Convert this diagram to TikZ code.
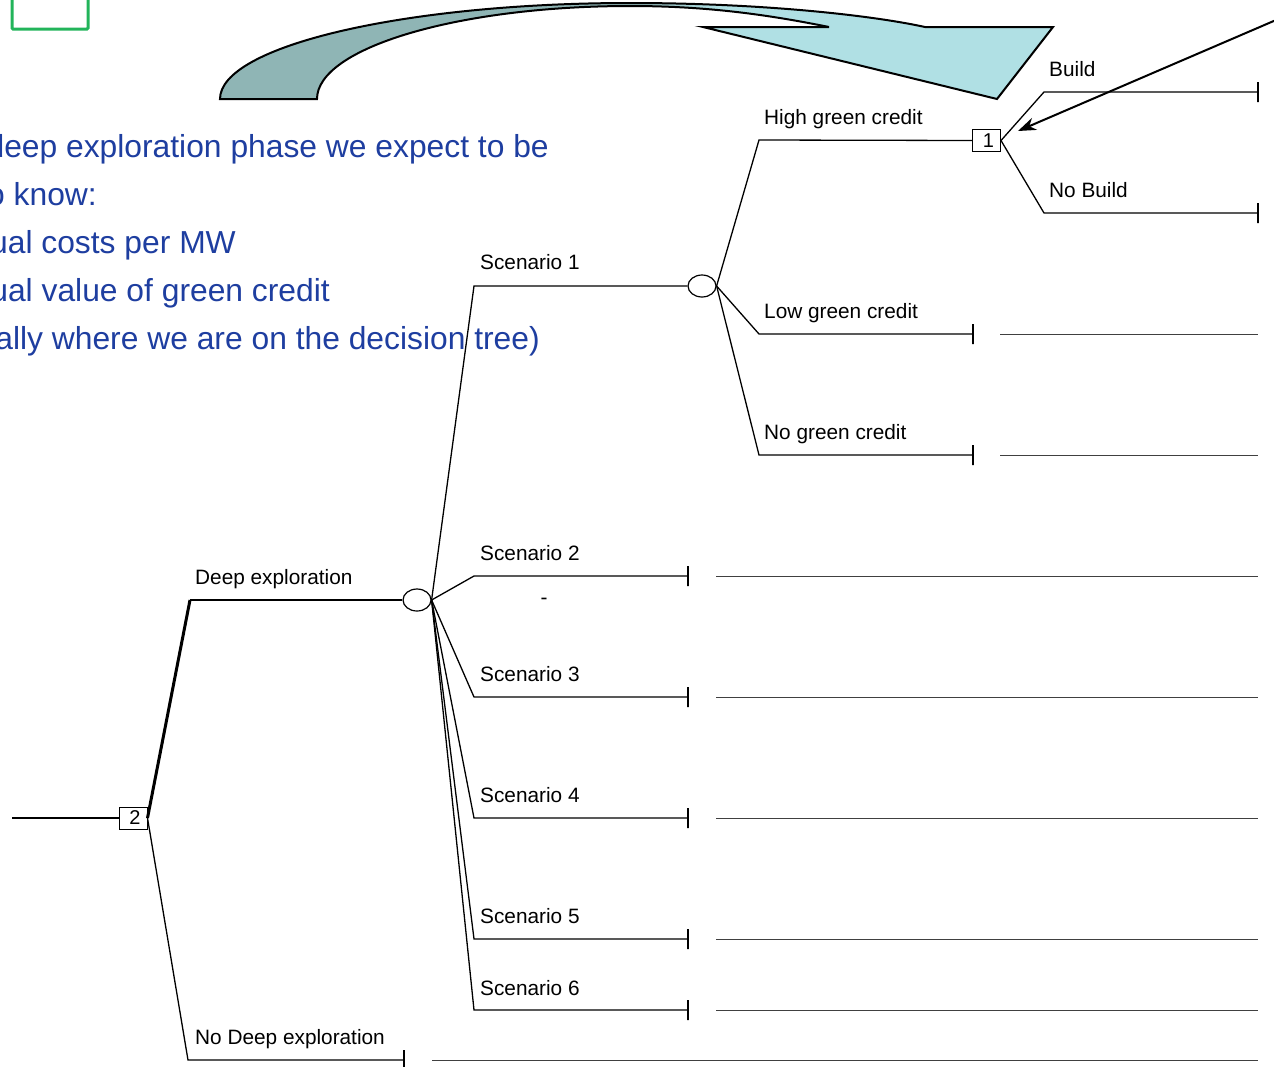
\documentclass[tikz,border=0pt]{standalone}
\usepackage{fontspec}
\setmainfont{Liberation Sans}
\usetikzlibrary{shapes.geometric,arrows.meta}
\definecolor{noteBlue}{RGB}{30,62,160}
\definecolor{frameGreen}{RGB}{34,180,90}
\definecolor{tealDark}{RGB}{143,181,181}
\definecolor{tealLight}{RGB}{176,224,228}
\pgfdeclarehorizontalshading{bendfill}{100bp}{color(0bp)=(tealDark); color(50bp)=(tealDark); color(55bp)=(tealLight); color(100bp)=(tealLight)}

\begin{document}
\begin{tikzpicture}[x=1pt,y=-1pt,
  branch/.style={line width=1.3pt},
  mainbranch/.style={line width=3pt},
  payoff/.style={line width=0.8pt, black!75},
  lbl/.style={font=\fontsize{20.8}{24}\selectfont, anchor=base west, inner sep=0pt},
  note/.style={font=\fontsize{31.8}{36}\selectfont, text=noteBlue, anchor=base east, inner sep=0pt},
  chance/.style={ellipse, draw, line width=1.2pt, minimum width=28pt, minimum height=22pt, inner sep=0pt},
  decision/.style={rectangle, draw, line width=1pt, minimum width=28pt, minimum height=22pt, inner sep=0pt, font=\fontsize{20}{20}\selectfont},
  endtick/.style={rectangle, draw, line width=1.3pt, minimum width=0pt, minimum height=20pt, inner sep=0pt, outer sep=0pt}
]
\useasboundingbox (0,0) rectangle (1274,1066);
\clip (0,0) rectangle (1274,1066);

% green frame in the corner
\draw[frameGreen, line width=3pt, rounded corners=1pt] (12,-10) rectangle (88,29);

% curved block arrow
\path[draw=black, line width=2pt, shading=bendfill]
  (220,99) .. controls (220,46) and (405,3) .. (630,3)
  .. controls (760,3) and (870,15) .. (925,27)
  -- (1053,27) -- (997,99) -- (703,27) -- (829,27)
  .. controls (760,13) and (700,6) .. (630,6)
  .. controls (458,6) and (317,48) .. (317,99) -- cycle;

% notes
\node[note] (n1) at (549,157) {deep exploration phase we expect to be};
\node[note] (n2) at (97,205) {o know:};
\node[note] (n3) at (236,253) {ual costs per MW};
\node[note] (n4) at (330,301) {ual value of green credit};
\node[note] (n5) at (540,349) {ally where we are on the decision tree)};

% nodes of the tree
\coordinate (root) at (12,818);
\coordinate (xEnd) at (1258,0);
\node[decision] (d2) at (133,818) {\hspace*{4pt}2};
\node[chance] (c1) at (417,600) {};
\node[chance] (c2) at (702,286) {};
\node[decision] (d1) at (986.5,140.5) {\hspace*{4pt}1};

\coordinate (kDeep) at (190,600);
\coordinate (kNoDeep) at (188,1060);
\node[endtick] (tNoDeep) at (404,1060) {};

\coordinate (kS1) at (474,286);
\coordinate (kS2) at (474,576);
\coordinate (kS3) at (474,697);
\coordinate (kS4) at (474,818);
\coordinate (kS5) at (474,939);
\coordinate (kS6) at (474,1010);
\node[endtick] (tS2) at (688,576) {};
\node[endtick] (tS3) at (688,697) {};
\node[endtick] (tS4) at (688,818) {};
\node[endtick] (tS5) at (688,939) {};
\node[endtick] (tS6) at (688,1010) {};

\coordinate (kHigh) at (759,140);
\coordinate (kLow) at (759,334);
\coordinate (kNone) at (759,455);
\node[endtick] (tLow) at (973,334) {};
\node[endtick] (tNone) at (973,455) {};

\coordinate (kBuild) at (1044,92);
\coordinate (kNoBuild) at (1044,213);
\node[endtick] (tBuild) at (1258,92) {};
\node[endtick] (tNoBuild) at (1258,213) {};

% branches
\draw[branch] (root) -- (d2.west);
\draw[mainbranch] (d2.east) -- (kDeep);
\draw[branch] (kDeep) -- (c1.west);
\draw[branch] (d2.east) -- (kNoDeep) -- (tNoDeep.center);

\draw[branch] (c1.east) -- (kS1) -- (c2.west);
\foreach \s in {2,...,6}
  \draw[branch] (c1.east) -- (kS\s) -- (tS\s.center);

\draw[branch] (c2.east) -- (kHigh) -- (d1.west);
\draw[branch] (c2.east) -- (kLow) -- (tLow.center);
\draw[branch] (c2.east) -- (kNone) -- (tNone.center);

\draw[branch] (d1.east) -- (kBuild) -- (tBuild.center);
\draw[branch] (d1.east) -- (kNoBuild) -- (tNoBuild.center);

% payoff lines
\draw[payoff] ([xshift=28pt]tNoDeep.center) -- (tNoDeep -| xEnd);
\foreach \t in {tS2,tS3,tS4,tS5,tS6}
  \draw[payoff] ([xshift=28pt]\t.center) -- (\t -| xEnd);
\draw[payoff] ([xshift=27pt]tLow.center) -- (tLow -| xEnd);
\draw[payoff] ([xshift=27pt]tNone.center) -- (tNone -| xEnd);

% labels
\node[lbl] (lDeep) at (195,584) {Deep exploration};
\node[lbl] (lNoDeep) at (195,1044) {No Deep exploration};
\node[lbl] (lS1) at (480,269) {Scenario 1};
\node[lbl] (lS2) at (480,560) {Scenario 2};
\node[lbl] (lS3) at (480,681) {Scenario 3};
\node[lbl] (lS4) at (480,802) {Scenario 4};
\node[lbl] (lS5) at (480,923) {Scenario 5};
\node[lbl] (lS6) at (480,995) {Scenario 6};
\node[lbl] (lHigh) at (764,124) {High green credit};
\node[lbl] (lLow) at (764,318) {Low green credit};
\node[lbl] (lNone) at (764,439) {No green credit};
\node[lbl] (lBuild) at (1049,76) {Build};
\node[lbl] (lNoBuild) at (1049,197) {No Build};
\node[font=\fontsize{20.8}{24}\selectfont, inner sep=0pt] (dash) at (544,601) {-};

% pointer arrow
\coordinate (pFrom) at (1290,14);
\coordinate (pTo) at (1018,131);
\draw[line width=2pt, -{Stealth[length=18pt,width=13pt]}] (pFrom) -- (pTo);
\end{tikzpicture}
\end{document}
